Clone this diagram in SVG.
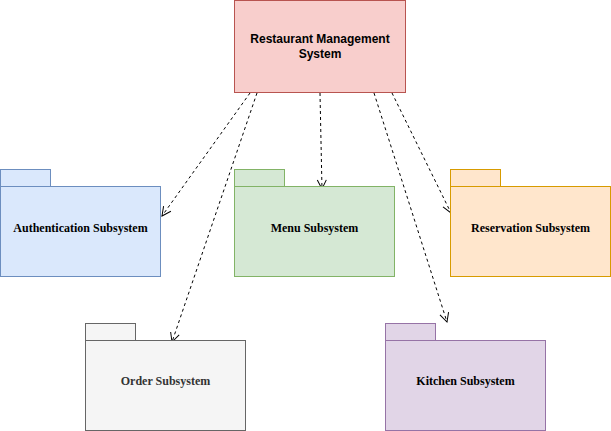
<svg xmlns="http://www.w3.org/2000/svg" width="611" height="431" viewBox="0 0 611 431">
<style>
.lbl{font-family:"Liberation Serif","Times New Roman",serif;font-size:12px;font-weight:bold;text-anchor:middle;fill:#000}
.main{font-family:"Liberation Sans",Arial,sans-serif;font-size:12px;font-weight:bold;text-anchor:middle;fill:#000}
.edge{fill:none;stroke:#000;stroke-width:1;stroke-dasharray:3 3}
</style>
<defs>
<marker id="open" markerUnits="userSpaceOnUse" markerWidth="14" markerHeight="14" refX="10" refY="5" orient="auto" viewBox="0 0 14 10">
<path d="M1,0.5 L10,5 L1,9.5" fill="none" stroke="#000" stroke-width="1"/>
</marker>
</defs>
<rect width="611" height="431" fill="#fff"/>
<g id="connectors">
<line class="edge" x1="250" y1="93" x2="162" y2="216" marker-end="url(#open)"/>
<line class="edge" x1="257" y1="93" x2="172" y2="342" marker-end="url(#open)"/>
<line class="edge" x1="320" y1="93" x2="322" y2="189" marker-end="url(#open)"/>
<line class="edge" x1="374" y1="93" x2="447" y2="322" marker-end="url(#open)"/>
<line class="edge" x1="392" y1="93" x2="451" y2="213" marker-end="url(#open)"/>
</g>
<g id="main">
<rect x="234.5" y="0.5" width="171" height="92" fill="#f8cecc" stroke="#b85450"/>
<text class="main" x="320" y="43">Restaurant Management</text>
<text class="main" x="320" y="58">System</text>
</g>
<g id="auth">
<rect x="0.5" y="169.5" width="50" height="17" fill="#dae8fc" stroke="#6c8ebf"/>
<rect x="0.5" y="186.5" width="160" height="90" fill="#dae8fc" stroke="#6c8ebf"/>
<text class="lbl" x="80.5" y="232">Authentication Subsystem</text>
</g>
<g id="menu">
<rect x="234.5" y="169.5" width="50" height="17" fill="#d5e8d4" stroke="#82b366"/>
<rect x="234.5" y="186.5" width="160" height="90" fill="#d5e8d4" stroke="#82b366"/>
<text class="lbl" x="314.5" y="232">Menu Subsystem</text>
</g>
<g id="reservation">
<rect x="450.5" y="169.5" width="50" height="17" fill="#ffe6cc" stroke="#d79b00"/>
<rect x="450.5" y="186.5" width="160" height="90" fill="#ffe6cc" stroke="#d79b00"/>
<text class="lbl" x="530.5" y="232">Reservation Subsystem</text>
</g>
<g id="order">
<rect x="85.5" y="323.5" width="50" height="17" fill="#f5f5f5" stroke="#666666"/>
<rect x="85.5" y="340.5" width="160" height="90" fill="#f5f5f5" stroke="#666666"/>
<text class="lbl" x="165.5" y="385" style="fill:#333333">Order Subsystem</text>
</g>
<g id="kitchen">
<rect x="385.5" y="323.5" width="50" height="17" fill="#e1d5e7" stroke="#9673a6"/>
<rect x="385.5" y="340.5" width="160" height="90" fill="#e1d5e7" stroke="#9673a6"/>
<text class="lbl" x="465.5" y="385">Kitchen Subsystem</text>
</g>
</svg>
